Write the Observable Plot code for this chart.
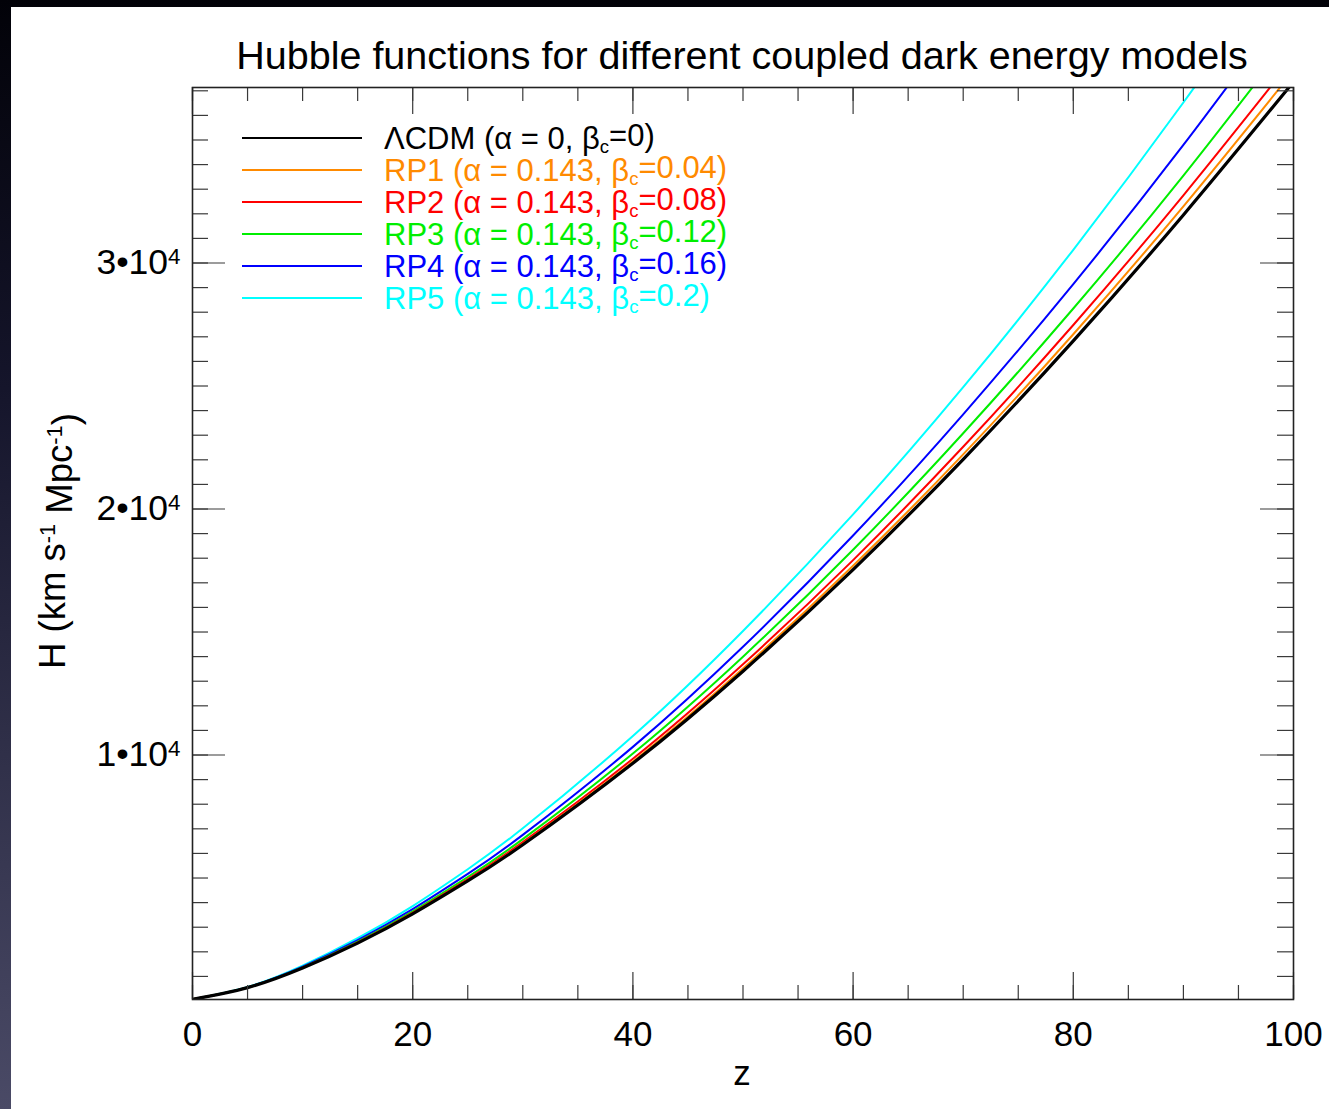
<!DOCTYPE html>
<html><head><meta charset="utf-8">
<script src="https://cdn.jsdelivr.net/npm/d3@7"></script>
<script src="https://cdn.jsdelivr.net/npm/@observablehq/plot@0.6"></script>
<style>
html,body{margin:0;padding:0;}
body{width:1329px;height:1109px;background:linear-gradient(to bottom,#020208 0%,#15152b 35%,#4a4a66 100%);position:relative;overflow:hidden;font-family:"Liberation Sans",Arial,Helvetica,sans-serif;}
#panel{position:absolute;left:11px;top:7px;width:1318px;height:1102px;background:#fff;}
</style></head><body><div id="panel"></div>
<script>
// redshift samples
const z      = [0, 5, 10, 15, 20, 25, 30, 40, 50, 60, 70, 80, 90, 100];
// Hubble function values (km s^-1 Mpc^-1)
const hLCDM  = [70, 545, 1343, 2356, 3542, 4880, 6353, 9664, 13407, 17537, 22022, 26835, 31954, 37364];
const hRP1   = [70, 546, 1347, 2365, 3560, 4907, 6391, 9732, 13514, 17695, 22220, 27103, 32305, 37812];
const hRP2   = [70, 548, 1356, 2384, 3592, 4958, 6461, 9848, 13689, 17923, 22529, 27479, 32753, 38335];
const hRP3   = [70, 550, 1370, 2417, 3648, 5041, 6582, 10060, 13997, 18344, 23079, 28150, 33552, 39307];
const hRP4   = [70, 556, 1397, 2474, 3737, 5168, 6753, 10331, 14399, 18922, 23850, 29143, 34798, 40801];
const hRP5   = [70, 567, 1437, 2552, 3861, 5358, 7020, 10775, 15043, 19782, 24951, 30538, 36523, 42857];

const modelNames = ["ΛCDM", "RP1", "RP2", "RP3", "RP4", "RP5"];
const alphas     = ["0", "0.143", "0.143", "0.143", "0.143", "0.143"];
const betas      = ["0", "0.04", "0.08", "0.12", "0.16", "0.2"];
const colors     = ["#000000", "#ff8a00", "#ff0000", "#00ee00", "#0000ff", "#00ffff"];
const widths     = [3.2, 2, 2, 2, 2, 2];
const values     = [hLCDM, hRP1, hRP2, hRP3, hRP4, hRP5];

const xMajor = [0, 20, 40, 60, 80, 100];
const xMinor = d3.range(0, 101, 5);
const yMajor = [10000, 20000, 30000];
const yMinor = d3.range(1000, 37001, 1000);

const W = 1318, H = 1102;
const mL = 181, mR = 36, mT = 80, mB = 110;
const pW = W - mL - mR, pH = H - mT - mB;

const lineMarks = [];
for (let k = values.length - 1; k >= 0; k--) {
  const rows = z.map((zz, i) => ({z: zz, H: values[k][i]}));
  lineMarks.push(Plot.line(rows, {x: "z", y: "H", stroke: colors[k], strokeWidth: widths[k], curve: "natural", clip: true}));
}

const tickStroke = "#3a3a3a";
const plot = Plot.plot({
  width: W, height: H,
  marginLeft: mL, marginRight: mR, marginTop: mT, marginBottom: mB,
  style: {background: "transparent", fontFamily: "'Liberation Sans', Arial, Helvetica, sans-serif", color: "#000"},
  x: {domain: [0, 100]},
  y: {domain: [62, 37134]},
  marks: [
    ...lineMarks,
    // inward ticks on all four sides
    Plot.ruleX(xMinor, {x: d => d, insetTop: pH - 14, stroke: tickStroke, strokeWidth: 1.2}),
    Plot.ruleX(xMinor, {x: d => d, insetBottom: pH - 14, stroke: tickStroke, strokeWidth: 1.2}),
    Plot.ruleX(xMajor, {x: d => d, insetTop: pH - 27, stroke: tickStroke, strokeWidth: 1.2}),
    Plot.ruleX(xMajor, {x: d => d, insetBottom: pH - 27, stroke: tickStroke, strokeWidth: 1.2}),
    Plot.ruleY(yMinor, {y: d => d, insetRight: pW - 16, stroke: tickStroke, strokeWidth: 1.2}),
    Plot.ruleY(yMinor, {y: d => d, insetLeft: pW - 16, stroke: tickStroke, strokeWidth: 1.2}),
    Plot.ruleY(yMajor, {y: d => d, insetRight: pW - 33, stroke: tickStroke, strokeWidth: 1.2}),
    Plot.ruleY(yMajor, {y: d => d, insetLeft: pW - 33, stroke: tickStroke, strokeWidth: 1.2}),
    Plot.frame({stroke: "#222", strokeWidth: 1.6}),
    Plot.axisX({ticks: xMajor, tickSize: 0, tickPadding: 22, fontSize: 35, tickFormat: d => String(d), label: null}),
    Plot.axisY({ticks: yMajor, tickSize: 0, tickPadding: 12, fontSize: 35.5, tickFormat: d => `${d / 1e4}•10`, label: null})
  ]
});
document.getElementById("panel").appendChild(plot);

const svg = d3.select(plot);
// superscript exponent on y tick labels
svg.selectAll('g[aria-label="y-axis tick label"] text').each(function () {
  d3.select(this).append("tspan").attr("dy", "-0.48em").attr("font-size", "0.63em").text("4");
});

const font = "'Liberation Sans', Arial, Helvetica, sans-serif";
// title
svg.append("text").attr("x", 731).attr("y", 62).attr("text-anchor", "middle")
  .attr("font-family", font).attr("font-size", 39.5).attr("fill", "#000")
  .text("Hubble functions for different coupled dark energy models");
// x label
svg.append("text").attr("x", 731).attr("y", 1078).attr("text-anchor", "middle")
  .attr("font-family", font).attr("font-size", 35).attr("fill", "#000").text("z");
// y label with superscripts
const yl = svg.append("text").attr("transform", "translate(54,534) rotate(-90)").attr("text-anchor", "middle")
  .attr("font-family", font).attr("font-size", 36.5).attr("fill", "#000");
yl.append("tspan").text("H (km s");
yl.append("tspan").attr("dy", "-0.45em").attr("font-size", "0.6em").text("-1");
yl.append("tspan").attr("dy", "0.45em").text(" Mpc");
yl.append("tspan").attr("dy", "-0.45em").attr("font-size", "0.6em").text("-1");
yl.append("tspan").attr("dy", "0.45em").text(")");

// legend
const leg = svg.append("g").attr("font-family", font).attr("font-size", 31).attr("text-anchor", "start");
modelNames.forEach((name, i) => {
  const y = 131 + 32 * i;
  leg.append("line").attr("x1", 231).attr("x2", 351).attr("y1", y).attr("y2", y)
    .attr("stroke", colors[i]).attr("stroke-width", 2);
  const t = leg.append("text").attr("x", 373).attr("y", y + 11).attr("fill", colors[i]).attr("text-anchor", "start");
  t.append("tspan").text(`${name} (α = ${alphas[i]}, β`);
  t.append("tspan").attr("dy", "0.22em").attr("font-size", "0.6em").text("c");
  t.append("tspan").attr("dy", "-0.22em").text(`=${betas[i]})`);
});
</script>
</body></html>
